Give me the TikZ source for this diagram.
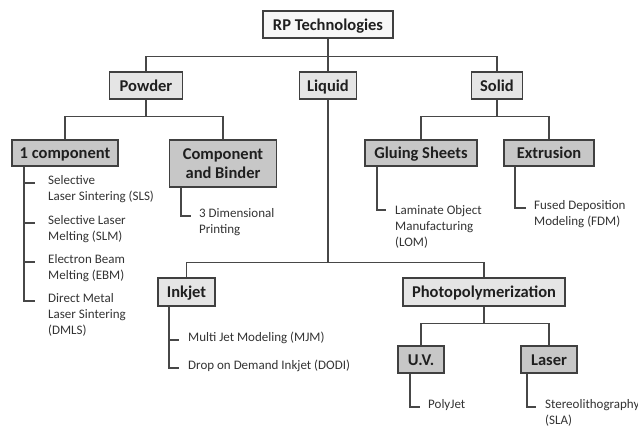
\documentclass[tikz,border=0pt]{standalone}
\usepackage{fontspec}
\setmainfont{Carlito}
\begin{document}
\begin{tikzpicture}[x=1pt,y=-1pt,
  conn/.style={draw=black!72,line width=1.4pt},
  box/.style={draw=black!75,line width=1.3pt,inner sep=0pt,text=black!88,
    font=\bfseries\fontsize{16.5}{19}\selectfont,align=center},
  one/.style={text height=12.5pt,text depth=1pt},
  topbox/.style={box,one,fill=black!3},
  midbox/.style={box,one,fill=black!10},
  lowbox/.style={box,fill=black!22},
  item/.style={anchor=north west,inner sep=0pt,align=left,text=black!80,
    font=\fontsize{13}{16}\selectfont}]
\useasboundingbox (0,0) rectangle (638,428);
% boxes
\node[topbox,minimum width=130pt,minimum height=27pt] (rp) at (328,24.5) {RP Technologies};
\node[midbox,minimum width=73pt,minimum height=27pt] (pow) at (146,85.5) {Powder};
\node[midbox,minimum width=57pt,minimum height=27pt] (liq) at (328,85.5) {Liquid};
\node[midbox,minimum width=51pt,minimum height=27pt] (sol) at (497,85.5) {Solid};
\node[lowbox,one,minimum width=106pt,minimum height=26pt] (c1) at (65,153) {1 component};
\node[lowbox,minimum width=107pt,minimum height=47pt] (cb) at (223,163.5) {Component\\and Binder};
\node[lowbox,one,minimum width=112pt,minimum height=26pt] (gs) at (421,153) {Gluing Sheets};
\node[lowbox,one,minimum width=90pt,minimum height=26pt] (ex) at (549,153) {Extrusion};
\node[midbox,minimum width=57pt,minimum height=28pt] (ink) at (186.5,292) {Inkjet};
\node[midbox,minimum width=162pt,minimum height=28pt] (ph) at (484,292) {Photopolymerization};
\node[lowbox,one,minimum width=46pt,minimum height=27pt] (uv) at (421,359.5) {U.V.};
\node[lowbox,one,minimum width=56pt,minimum height=27pt] (la) at (549,359.5) {Laser};
% tree connectors
\draw[conn] (rp.south) -- ++(0,18) coordinate (b1);
\draw[conn] (pow.north) |- (b1) -| (sol.north);
\draw[conn] (b1) -- (liq.north);
\draw[conn] (pow.south) -- ++(0,17) coordinate (b2);
\draw[conn] (c1.north) |- (b2) -| (cb.north);
\draw[conn] (sol.south) -- ++(0,17) coordinate (b3);
\draw[conn] (gs.north) |- (b3) -| (ex.north);
\draw[conn] (liq.south) -- ++(0,163) coordinate (b4);
\draw[conn] (ink.north) |- (b4) -| (ph.north);
\draw[conn] (ph.south) -- ++(0,17) coordinate (b5);
\draw[conn] (uv.north) |- (b5) -| (la.north);
% 1 component list
\coordinate (c1v) at ([xshift=-41pt]c1.south);
\coordinate (k1) at (35,183);
\coordinate (k2) at (35,223);
\coordinate (k3) at (35,262);
\coordinate (k4) at (35,301);
\draw[conn] (c1v) |- (k4);
\foreach \k in {k1,k2,k3} \draw[conn] (c1v |- \k) -- (\k);
\node[item] (t1) at ([shift={(13,-8)}]k1) {Selective\\Laser Sintering (SLS)};
\node[item] (t2) at ([shift={(13,-8)}]k2) {Selective Laser\\Melting (SLM)};
\node[item] (t3) at ([shift={(13,-8)}]k3) {Electron Beam\\Melting (EBM)};
\node[item] (t4) at ([shift={(13,-8)}]k4) {Direct Metal\\Laser Sintering\\(DMLS)};
% component and binder
\coordinate (cbv) at ([xshift=-42pt]cb.south);
\coordinate (k5) at (191,216);
\draw[conn] (cbv) |- (k5);
\node[item] (t5) at ([shift={(8,-8)}]k5) {3 Dimensional\\Printing};
% gluing sheets
\coordinate (gsv) at ([xshift=-44pt]gs.south);
\coordinate (k6) at (386,210);
\draw[conn] (gsv) |- (k6);
\node[item] (t6) at ([shift={(9,-5)}]k6) {Laminate Object\\Manufacturing\\(LOM)};
% extrusion
\coordinate (exv) at ([xshift=-34pt]ex.south);
\coordinate (k7) at (526,208);
\draw[conn] (exv) |- (k7);
\node[item] (t7) at ([shift={(8,-8)}]k7) {Fused Deposition\\Modeling (FDM)};
% inkjet
\coordinate (inkv) at ([xshift=-17.5pt]ink.south);
\coordinate (k8) at (179,340);
\coordinate (k9) at (179,368);
\draw[conn] (inkv) |- (k9);
\draw[conn] (inkv |- k8) -- (k8);
\node[item] (t8) at ([shift={(9,-8)}]k8) {Multi Jet Modeling (MJM)};
\node[item] (t9) at ([shift={(9,-8)}]k9) {Drop on Demand Inkjet (DODI)};
% U.V.
\coordinate (uvv) at ([xshift=-11pt]uv.south);
\coordinate (k10) at (420,407);
\draw[conn] (uvv) |- (k10);
\node[item] (t10) at ([shift={(8,-8)}]k10) {PolyJet};
% laser
\coordinate (lav) at ([xshift=-22pt]la.south);
\coordinate (k11) at (536,407);
\draw[conn] (lav) |- (k11);
\node[item] (t11) at ([shift={(9,-8)}]k11) {Stereolithography\\(SLA)};
\end{tikzpicture}
\end{document}
